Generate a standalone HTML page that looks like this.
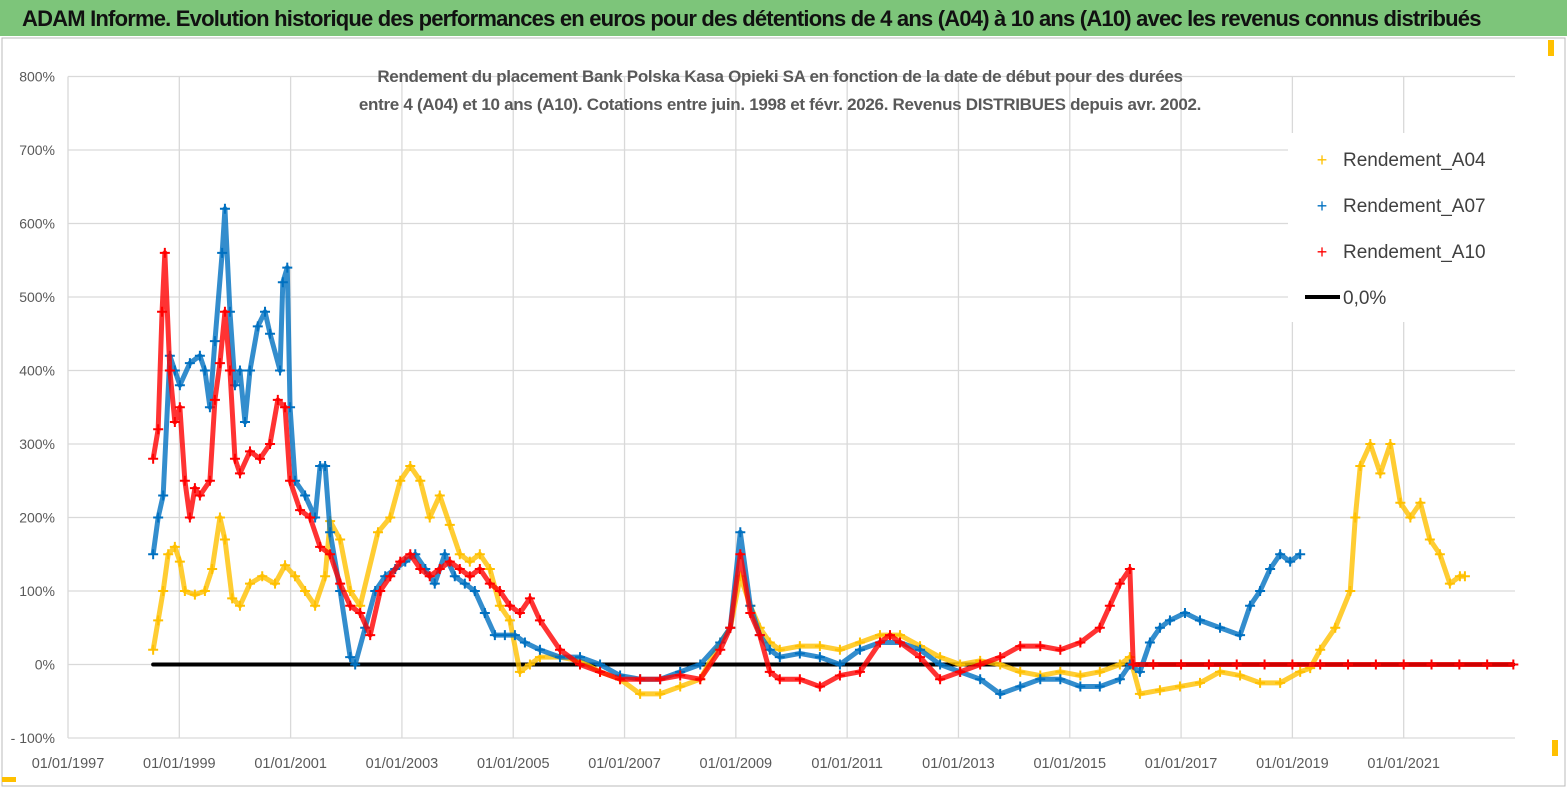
<!DOCTYPE html>
<html><head><meta charset="utf-8"><style>
body{margin:0;width:1567px;height:790px;overflow:hidden;background:#fff;font-family:"Liberation Sans",sans-serif}
#bar{position:absolute;left:0;top:0;width:1567px;height:36px;background:#7dc57a}
#bar span{position:absolute;left:22px;top:6px;font-size:22px;font-weight:bold;color:#111;letter-spacing:-0.8px;white-space:nowrap}
</style></head><body>
<div id="bar"><span>ADAM Informe. Evolution historique des performances en euros pour des détentions de 4 ans (A04) à 10 ans (A10) avec les revenus connus distribués</span></div>
<svg id="c" width="1567" height="790" style="position:absolute;left:0;top:0">
<rect x="2" y="38" width="1563" height="748" fill="none" stroke="#bbb"/>
<rect x="2" y="777" width="14" height="5" fill="#ffc000"/><rect x="1548" y="40" width="6" height="16" fill="#ffc000"/><rect x="1552" y="740" width="6" height="16" fill="#ffc000"/>
<g id="grid"></g><g id="series"></g>
<text x="780" y="82" text-anchor="middle" font-size="17" font-weight="bold" fill="#595959" letter-spacing="-0.3">Rendement du placement Bank Polska Kasa Opieki SA en fonction de la date de début pour des durées</text>
<text x="780" y="110" text-anchor="middle" font-size="17" font-weight="bold" fill="#595959" letter-spacing="-0.3">entre 4 (A04) et 10 ans (A10).  Cotations entre juin. 1998 et févr. 2026. Revenus DISTRIBUES depuis avr. 2002.</text>
<g>
<rect x="1288" y="133" width="230" height="189" fill="#fff"/>
<g><text x="1322" y="166" font-size="18" fill="#ffc000" text-anchor="middle">+</text><text x="1343" y="166" font-size="19" fill="#404040">Rendement_A04</text></g>
<g><text x="1322" y="212" font-size="18" fill="#0070c0" text-anchor="middle">+</text><text x="1343" y="212" font-size="19" fill="#404040">Rendement_A07</text></g>
<g><text x="1322" y="258" font-size="18" fill="#ff0000" text-anchor="middle">+</text><text x="1343" y="258" font-size="19" fill="#404040">Rendement_A10</text></g>
<g><line x1="1305" y1="297" x2="1340" y2="297" stroke="#000" stroke-width="4"/><text x="1343" y="304" font-size="19" fill="#404040">0,0%</text></g>
</g>
</svg>
<script>
const yTicks=[-100,0,100,200,300,400,500,600,700,800];
const xTickYears=[1997,1999,2001,2003,2005,2007,2009,2011,2013,2015,2017,2019,2021];
const datesA04=[1998.53,1998.62,1998.71,1998.80,1998.92,1999.01,1999.10,1999.28,1999.46,1999.59,1999.73,1999.82,1999.95,2000.09,2000.27,2000.49,2000.72,2000.90,2001.08,2001.26,2001.44,2001.62,2001.71,2001.89,2002.07,2002.25,2002.57,2002.79,2002.97,2003.15,2003.33,2003.50,2003.68,2003.86,2004.04,2004.22,2004.40,2004.58,2004.76,2004.94,2005.12,2005.30,2005.48,2005.84,2006.20,2006.56,2006.92,2007.28,2007.64,2008.00,2008.36,2008.72,2008.90,2009.08,2009.26,2009.43,2009.61,2009.79,2010.15,2010.51,2010.87,2011.23,2011.59,2011.95,2012.31,2012.67,2013.03,2013.39,2013.75,2014.11,2014.47,2014.83,2015.19,2015.54,2015.90,2016.08,2016.26,2016.62,2016.98,2017.34,2017.70,2018.06,2018.42,2018.78,2019.14,2019.32,2019.50,2019.77,2020.04,2020.13,2020.22,2020.40,2020.58,2020.76,2020.94,2021.12,2021.30,2021.47,2021.65,2021.83,2022.01,2022.10];
const valuesA04=[20,60,100,150,160,140,100,95,100,130,200,170,90,80,110,120,110,135,120,100,80,120,195,170,100,80,180,200,250,270,250,200,230,190,150,140,150,130,80,60,-10,0,10,10,5,-10,-20,-40,-40,-30,-20,30,50,120,80,50,30,20,25,25,20,30,40,40,25,10,0,5,0,-10,-15,-10,-15,-10,0,10,-40,-35,-30,-25,-10,-15,-25,-25,-10,-5,20,50,100,200,270,300,260,300,220,200,220,170,150,110,120,120];
const datesA07=[1998.53,1998.62,1998.71,1998.83,1998.92,1999.01,1999.19,1999.37,1999.46,1999.55,1999.64,1999.77,1999.82,1999.91,2000.00,2000.09,2000.18,2000.27,2000.41,2000.54,2000.63,2000.81,2000.86,2000.94,2000.99,2001.08,2001.26,2001.44,2001.53,2001.62,2001.71,2001.89,2002.07,2002.16,2002.34,2002.52,2002.70,2002.88,2003.06,2003.24,2003.42,2003.59,2003.77,2003.95,2004.13,2004.31,2004.49,2004.67,2004.85,2005.03,2005.21,2005.48,2005.84,2006.20,2006.56,2006.92,2007.28,2007.64,2008.00,2008.36,2008.72,2008.90,2009.08,2009.26,2009.43,2009.61,2009.79,2010.15,2010.51,2010.87,2011.23,2011.59,2011.95,2012.31,2012.67,2013.03,2013.39,2013.75,2014.11,2014.47,2014.83,2015.19,2015.54,2015.90,2016.08,2016.26,2016.44,2016.62,2016.80,2017.07,2017.34,2017.70,2018.06,2018.24,2018.42,2018.60,2018.78,2018.96,2019.14];
const valuesA07=[150,200,230,420,400,380,410,420,400,350,440,560,620,480,380,400,330,400,460,480,450,400,520,540,350,250,230,200,270,270,180,100,10,0,50,100,120,130,140,150,130,110,150,120,110,100,70,40,40,40,30,20,10,10,0,-15,-20,-20,-10,0,30,50,180,80,40,20,10,15,10,0,20,30,30,20,0,-10,-20,-40,-30,-20,-20,-30,-30,-20,0,-10,30,50,60,70,60,50,40,80,100,130,150,140,150];
const datesA10=[1998.53,1998.62,1998.69,1998.74,1998.83,1998.92,1999.01,1999.10,1999.19,1999.28,1999.37,1999.55,1999.64,1999.73,1999.82,1999.91,2000.00,2000.09,2000.27,2000.45,2000.63,2000.77,2000.90,2000.99,2001.17,2001.35,2001.53,2001.71,2001.89,2002.07,2002.25,2002.43,2002.61,2002.79,2002.97,2003.15,2003.33,2003.50,2003.68,2003.86,2004.04,2004.22,2004.40,2004.58,2004.76,2004.94,2005.12,2005.30,2005.48,2005.84,2006.20,2006.56,2006.92,2007.28,2007.64,2008.00,2008.36,2008.72,2008.90,2009.08,2009.26,2009.43,2009.61,2009.79,2010.15,2010.51,2010.87,2011.23,2011.59,2011.77,2011.95,2012.31,2012.67,2013.03,2013.39,2013.75,2014.11,2014.47,2014.83,2015.19,2015.54,2015.72,2015.90,2016.08,2016.14,2016.5,2017,2017.5,2018,2018.5,2019,2019.5,2020,2020.5,2021,2021.5,2022,2022.5,2022.97];
const valuesA10=[280,320,480,560,400,330,350,250,200,240,230,250,360,410,480,400,280,260,290,280,300,360,350,250,210,200,160,150,110,80,70,40,100,120,140,150,130,120,130,140,130,120,130,110,100,80,70,90,60,20,0,-10,-20,-20,-20,-15,-20,20,50,150,70,40,-10,-20,-20,-30,-15,-10,30,40,30,10,-20,-10,0,10,25,25,20,30,50,80,110,130,0,0,0,0,0,0,0,0,0,0,0,0,0,0,0];
const zeroStart=1998.53, zeroEnd=2022.97;
const NS='http://www.w3.org/2000/svg';
const X0=68,X1=1515,Y0=664.5,PX=73.5;
const xs=y=>X0+(y-1997)*(X1-X0)/26;
const ys=v=>Y0-v*PX/100;
const grid=document.getElementById('grid'),ser=document.getElementById('series');
function mk(tag,at,p){const e=document.createElementNS(NS,tag);for(const k in at)e.setAttribute(k,at[k]);p.appendChild(e);return e;}
yTicks.forEach(t=>{
 const l=mk('line',{x1:X0,x2:X1,y1:ys(t),y2:ys(t),stroke:'#d9d9d9','stroke-width':1.3},grid);
 
 
 const tx=mk('text',{x:55,y:ys(t)+5,'text-anchor':'end','font-size':14,fill:'#595959'},grid);
 tx.textContent=(t<0?'- ':'')+Math.abs(t)+'%';
 
 
});
xTickYears.forEach(y=>{
 const l=mk('line',{x1:xs(y),x2:xs(y),y1:ys(800),y2:ys(-100),stroke:'#d9d9d9','stroke-width':1.3},grid);
 
 
 const tx=mk('text',{x:xs(y),y:768,'text-anchor':'middle','font-size':14.5,fill:'#595959'},grid);
 tx.textContent='01/01/'+y;
 
 
});
const z=mk('line',{x1:xs(zeroStart),x2:xs(zeroEnd),y1:ys(0),y2:ys(0),stroke:'#000','stroke-width':4,'stroke-linecap':'round'},ser);


function series(d,v,col,name){
 const g=mk('g',{},ser);
 
 
 mk('polyline',{points:d.map((t,i)=>xs(t)+','+ys(v[i])).join(' '),fill:'none',stroke:col,'stroke-width':5,'stroke-linejoin':'round','stroke-opacity':0.8},g);
 d.forEach((t,i)=>{
  const p=mk('path',{d:`M${xs(t)-5},${ys(v[i])}h10M${xs(t)},${ys(v[i])-5}v10`,stroke:col,'stroke-width':2},g);
  
  
 });
}
series(datesA04,valuesA04,'#ffc000','series-a04');
series(datesA07,valuesA07,'#0070c0','series-a07');
series(datesA10,valuesA10,'#ff0000','series-a10');
</script>
</body></html>
